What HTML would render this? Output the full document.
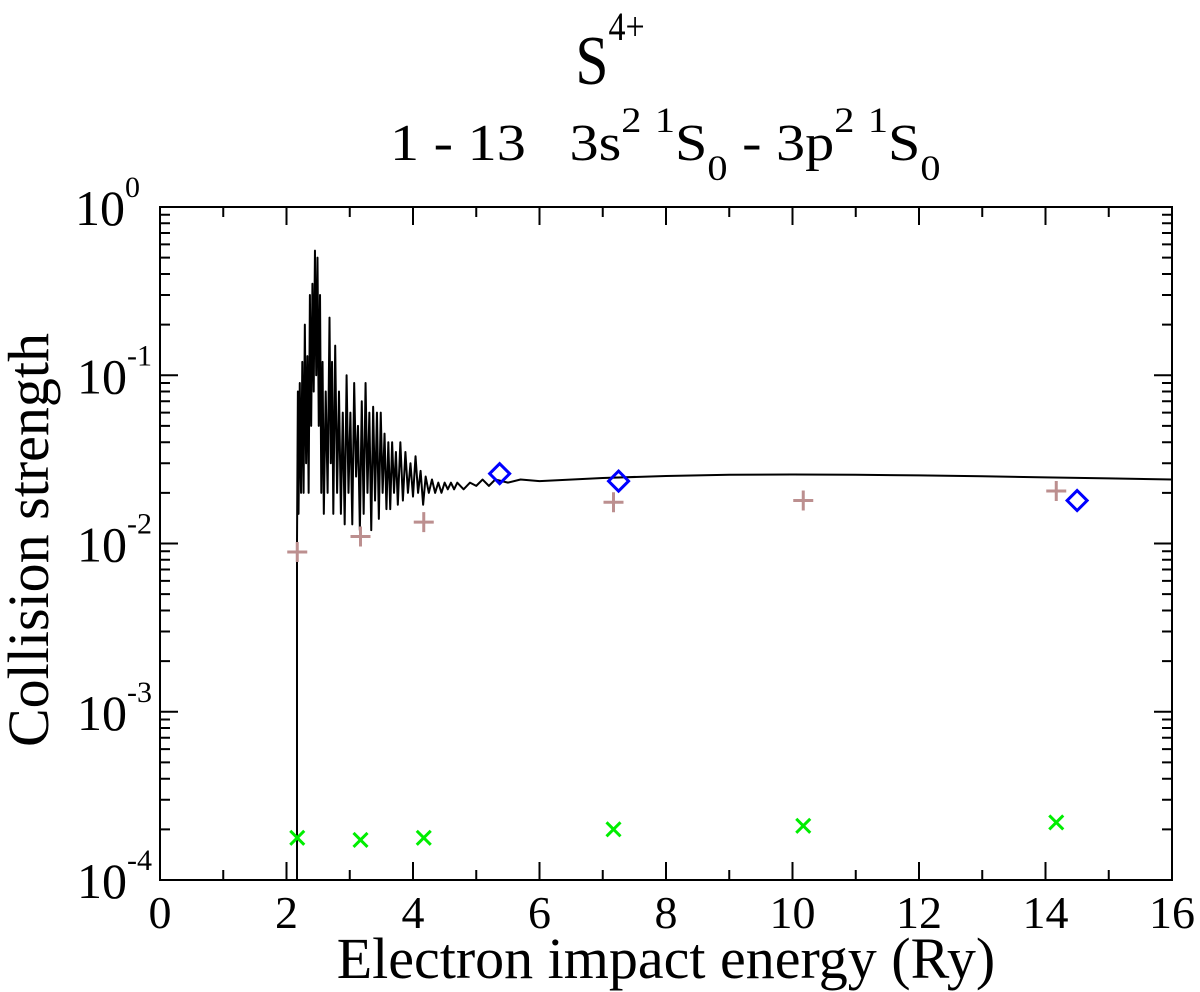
<!DOCTYPE html>
<html><head><meta charset="utf-8"><style>
html,body{margin:0;padding:0;background:#fff}
svg{display:block;font-family:"Liberation Serif",serif}
text{white-space:pre}
</style></head><body>
<svg id="chart" width="1200" height="992" viewBox="0 0 1200 992" xmlns="http://www.w3.org/2000/svg">
<g>
<text x="610" y="84" font-size="70" text-anchor="middle" transform="translate(610 0) scale(0.85 1) translate(-610 0)">S<tspan font-size="40" dy="-44">4+</tspan></text>
<text x="390" y="160" font-size="52" transform="translate(390 0) scale(1.12 1) translate(-390 0)">1 - 13   3s<tspan font-size="36" dy="-28">2</tspan><tspan font-size="36" dx="12">1</tspan><tspan dy="28">S</tspan><tspan font-size="36" dy="20">0</tspan><tspan dy="-20"> - 3p</tspan><tspan font-size="36" dy="-28">2</tspan><tspan font-size="36" dx="12">1</tspan><tspan dy="28">S</tspan><tspan font-size="36" dy="20">0</tspan></text>
</g>
<g id="axes"></g>
<g id="series"></g>
<text x="666" y="978" font-size="58" text-anchor="middle">Electron impact energy (Ry)</text>
<text x="0" y="0" font-size="58" text-anchor="middle" transform="translate(48 540) rotate(-90)">Collision strength</text>
</svg>
<script>
const xTicks=[0,2,4,6,8,10,12,14,16];
const yExps=[0,-1,-2,-3,-4];
const resE=[2.166,2.166,2.18,2.19,2.21,2.23,2.25,2.27,2.29,2.31,2.33,2.35,2.37,2.39,2.41,2.43,2.45,2.47,2.49,2.51,2.53,2.55,2.57,2.59,2.62,2.65,2.68,2.70,2.72,2.74,2.77,2.80,2.83,2.86,2.89,2.92,2.95,2.98,3.01,3.04,3.07,3.10,3.13,3.16,3.19,3.22,3.25,3.28,3.31,3.34,3.37,3.40,3.43,3.46,3.49,3.52,3.55,3.58,3.61,3.64,3.67,3.70,3.73,3.76,3.80,3.84,3.88,3.92,3.96,4.00,4.04,4.08,4.12,4.16,4.20,4.25,4.30,4.35,4.40,4.45,4.50,4.55,4.60,4.65,4.70,4.80,4.90,5.0,5.1,5.2,5.3,5.5,5.7,6.0,7,8,9,10,11,12,13,14,15,16];
const resV=[0.0001,0.01,0.08,0.015,0.09,0.02,0.12,0.02,0.2,0.03,0.13,0.02,0.3,0.05,0.35,0.08,0.55,0.1,0.5,0.05,0.3,0.02,0.12,0.015,0.08,0.02,0.22,0.03,0.12,0.015,0.15,0.02,0.08,0.015,0.06,0.013,0.1,0.02,0.06,0.013,0.09,0.025,0.05,0.012,0.07,0.015,0.09,0.02,0.06,0.012,0.065,0.018,0.06,0.014,0.06,0.02,0.045,0.016,0.04,0.016,0.04,0.02,0.035,0.017,0.04,0.018,0.035,0.02,0.03,0.019,0.033,0.02,0.027,0.017,0.025,0.02,0.024,0.02,0.023,0.02,0.023,0.021,0.023,0.021,0.023,0.021,0.023,0.022,0.024,0.022,0.024,0.023,0.024,0.0235,0.0245,0.0252,0.0256,0.0257,0.0256,0.0254,0.0251,0.0247,0.0244,0.024];
const plusE=[2.17,3.17,4.17,7.17,10.17,14.17];
const plusV=[0.0089,0.011,0.0134,0.0176,0.018,0.0205];
const diaE=[5.37,7.25,14.5];
const diaV=[0.026,0.0235,0.018];
const crossE=[2.17,3.17,4.17,7.17,10.17,14.17];
const crossV=[0.000178,0.000173,0.000178,0.0002,0.00021,0.00022];

const X0=160,X1=1172,Y0=207,Y1=880;
const xs=e=>X0+(X1-X0)*e/16;
const ys=v=>Y0+(Y1-Y0)*(-Math.log10(v))/4;
const NS="http://www.w3.org/2000/svg";
function mk(tag,attrs,parent){const el=document.createElementNS(NS,tag);for(const k in attrs)el.setAttribute(k,attrs[k]);parent.appendChild(el);return el;}
const ax=document.getElementById('axes'),sr=document.getElementById('series');
let frame=mk('rect',{x:X0,y:Y0,width:X1-X0,height:Y1-Y0,fill:'none',stroke:'#000','stroke-width':2},ax);


let d='';
for(let i=0;i<=16;i++){const x=xs(i),L=i%2?10:18;d+=`M${x} ${Y1}v${-L}M${x} ${Y0}v${L}`;}
for(let k=0;k<4;k++){for(let m=1;m<=10;m++){const y=ys(Math.pow(10,-4+k)*m);const L=(m===1||m===10)?18:10;d+=`M${X0} ${y}h${L}M${X1} ${y}h${-L}`;}}
let tk=mk('path',{d:d,stroke:'#000','stroke-width':2,fill:'none'},ax);


xTicks.forEach(t=>{const el=mk('text',{x:xs(t),y:928,'font-size':46,'text-anchor':'middle'},ax);el.textContent=t;

});
yExps.forEach(e=>{const el=mk('text',{x:132,y:ys(Math.pow(10,e))+18,'font-size':50},ax);


el.setAttribute('text-anchor','end');
el.innerHTML=`10<tspan font-size="30" dy="-28">${e}</tspan>`;
el.setAttribute('x', e===0?140:152);});
let pd=resE.map((e,i)=>(i?'L':'M')+xs(e).toFixed(2)+' '+ys(resV[i]).toFixed(2)).join('');
let ln=mk('path',{d:pd,stroke:'#000','stroke-width':2,fill:'none','stroke-linejoin':'round'},sr);


plusE.forEach((e,i)=>{const x=xs(e),y=ys(plusV[i]);const p=mk('path',{d:`M${x-10} ${y}h20M${x} ${y-10}v20`,stroke:'#bc8f8f','stroke-width':3},sr);

});
diaE.forEach((e,i)=>{const x=xs(e),y=ys(diaV[i]);const p=mk('path',{d:`M${x} ${y-10}L${x+10} ${y}L${x} ${y+10}L${x-10} ${y}Z`,stroke:'#0000ff','stroke-width':3,fill:'none'},sr);

});
crossE.forEach((e,i)=>{const x=xs(e),y=ys(crossV[i]);const p=mk('path',{d:`M${x-7} ${y-7}L${x+7} ${y+7}M${x+7} ${y-7}L${x-7} ${y+7}`,stroke:'#00ee00','stroke-width':3},sr);

});
</script>
</body></html>
